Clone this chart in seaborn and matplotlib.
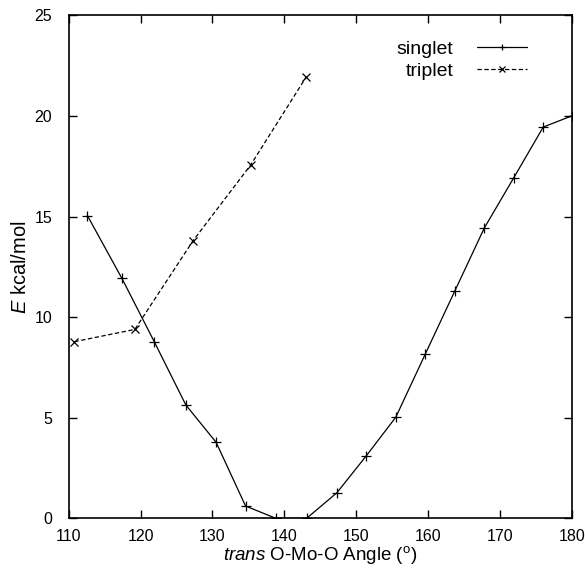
import matplotlib
matplotlib.use("Agg")
import matplotlib.pyplot as plt
import seaborn as sns

# singlet curve
singlet_angle = [112.6, 117.4, 121.9, 126.3, 130.5, 134.6, 138.8, 143.1, 147.3,
                 151.4, 155.5, 159.6, 163.7, 167.8, 171.9, 176.0, 180.0]
singlet_E = [15.05, 11.93, 8.78, 5.63, 3.78, 0.61, 0.0, 0.0, 1.27,
             3.11, 5.03, 8.17, 11.3, 14.43, 16.93, 19.45, 20.01]

# triplet curve
triplet_angle = [110.8, 119.2, 127.3, 135.3, 143.0]
triplet_E = [8.78, 9.39, 13.8, 17.56, 21.92]

sns.set_style("ticks")
plt.rcParams["font.family"] = ["Liberation Sans", "DejaVu Sans"]
plt.rcParams["mathtext.fontset"] = "custom"
plt.rcParams["mathtext.rm"] = "Liberation Sans"
plt.rcParams["mathtext.it"] = "Liberation Sans:italic"
plt.rcParams["text.color"] = "black"
plt.rcParams["axes.labelcolor"] = "black"
plt.rcParams["xtick.color"] = "black"
plt.rcParams["ytick.color"] = "black"
plt.rcParams["axes.edgecolor"] = "black"

fig = plt.figure(figsize=(5.85, 5.71), dpi=100)
ax = fig.add_axes([0.1174, 0.0923, 0.8604, 0.8807])

sns.lineplot(x=singlet_angle, y=singlet_E, ax=ax, color="black", lw=0.9,
             marker="+", markersize=7, markeredgewidth=0.9,
             markeredgecolor="black", label="singlet",
             estimator=None, sort=False)
sns.lineplot(x=triplet_angle, y=triplet_E, ax=ax, color="black", lw=0.9,
             linestyle=(0, (3.5, 2)), marker="x", markersize=6,
             markeredgewidth=0.9, markeredgecolor="black", label="triplet",
             estimator=None, sort=False)

ax.set_xlim(110, 180)
ax.set_ylim(0, 25)
ax.set_xticks(range(110, 181, 10))
ax.set_yticks(range(0, 26, 5))
ax.tick_params(direction="in", top=True, right=True, length=6, width=1,
               labelsize=11.5)
ax.tick_params(axis="x", pad=8)
ax.tick_params(axis="y", pad=12)
for s in ax.spines.values():
    s.set_linewidth(1.2)
    s.set_visible(True)

ax.set_xlabel(r"$\it{trans}$ O-Mo-O Angle ($^{\rm o}$)", fontsize=13.5, labelpad=0)
ax.set_ylabel(r"$\it{E}$ kcal/mol", fontsize=14.5, labelpad=3)

leg = ax.legend(loc="upper right", bbox_to_anchor=(0.946, 0.985), frameon=False,
                markerfirst=False, fontsize=14, handlelength=2.6,
                labelspacing=0.2, handletextpad=1.2)
for h in leg.legend_handles:
    h.set_markersize(5)

fig.savefig("out.png", dpi=100)
